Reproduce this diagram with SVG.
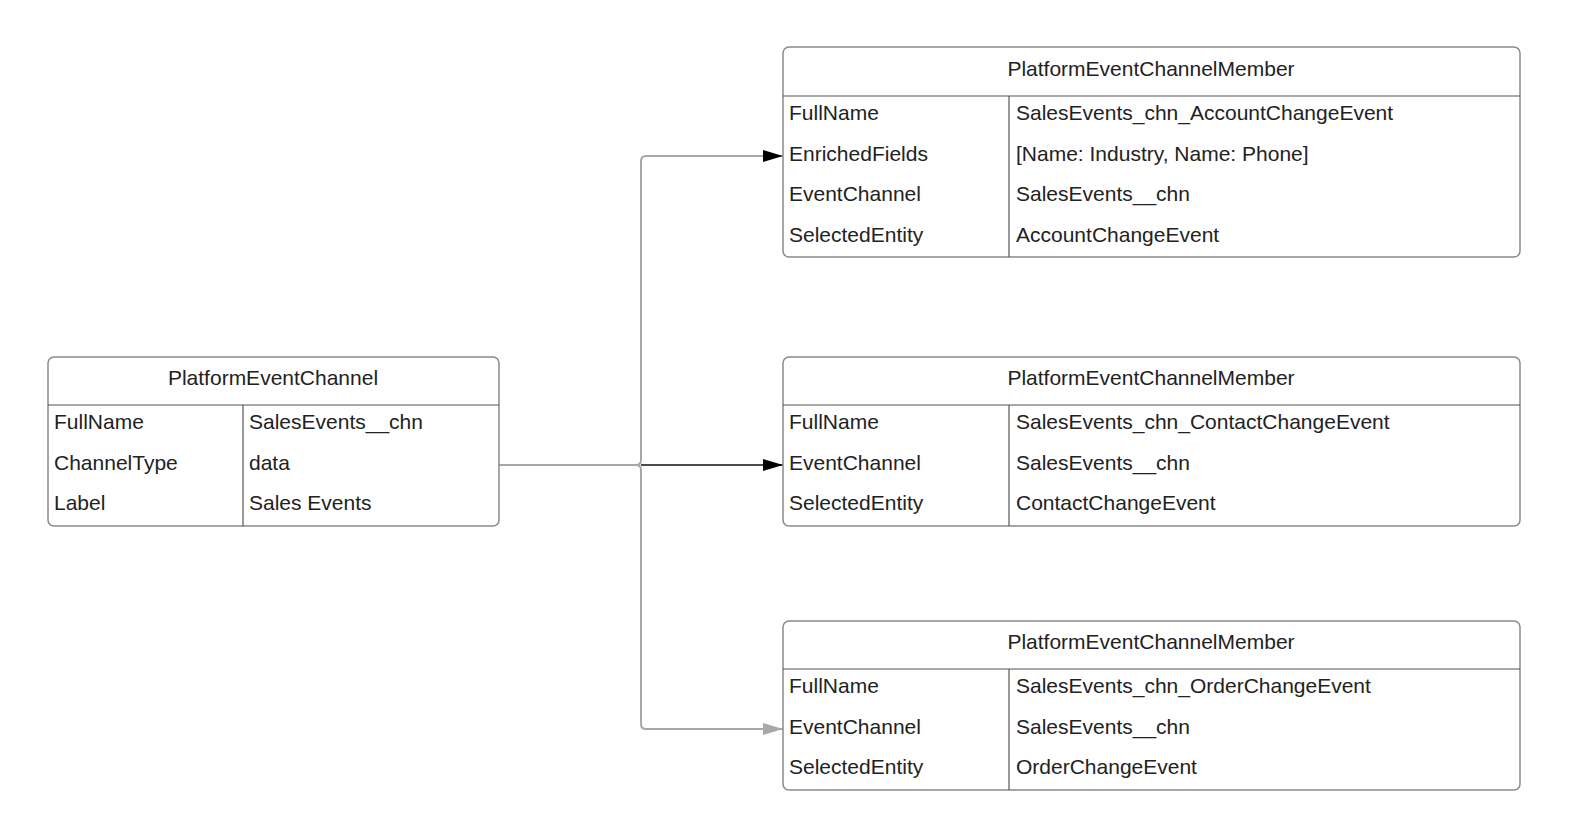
<svg xmlns="http://www.w3.org/2000/svg" width="1572" height="840" viewBox="0 0 1572 840">
<style>
text{font-family:"Liberation Sans",Arial,sans-serif;font-size:21px;fill:#222}
.h{text-anchor:middle}
.box{fill:#fff;stroke:#8a8a8a;stroke-width:1.5}
.ln{stroke:#555;stroke-width:1.2}
</style>
<defs>
<marker id="ab" markerWidth="20" markerHeight="12" refX="20" refY="6" orient="auto" markerUnits="userSpaceOnUse"><path d="M0,0L20,6L0,12z" fill="#000"/></marker>
<marker id="ag" markerWidth="20" markerHeight="12" refX="20" refY="6" orient="auto" markerUnits="userSpaceOnUse"><path d="M0,0L20,6L0,12z" fill="#a8a8a8"/></marker>
</defs>
<rect width="1572" height="840" fill="#fff"/>
<g id="connectors" fill="none" stroke-width="2">
<path d="M499,465H636Q641,465 641,460V161Q641,156 646,156H783" stroke="#a8a8a8" marker-end="url(#ab)"/>
<path d="M641,465H783" stroke="#111" stroke-width="1.5" marker-end="url(#ab)"/>
<path d="M499,465H636Q641,465 641,470V724Q641,729 646,729H783" stroke="#a8a8a8" marker-end="url(#ag)"/>
</g>
<g id="channel">
<rect class="box" x="48" y="357" width="451" height="169" rx="6"/>
<line class="ln" x1="48" y1="405" x2="499" y2="405"/><line class="ln" x1="243" y1="405" x2="243" y2="526"/>
<text class="h" x="273" y="385">PlatformEventChannel</text>
<text x="54" y="429">FullName</text><text x="249" y="429">SalesEvents__chn</text>
<text x="54" y="470">ChannelType</text><text x="249" y="470">data</text>
<text x="54" y="510">Label</text><text x="249" y="510">Sales Events</text>
</g>
<g id="member1">
<rect class="box" x="783" y="47" width="737" height="210" rx="6"/>
<line class="ln" x1="783" y1="96" x2="1520" y2="96"/><line class="ln" x1="1009" y1="96" x2="1009" y2="257"/>
<text class="h" x="1151" y="76">PlatformEventChannelMember</text>
<text x="789" y="120">FullName</text><text x="1016" y="120">SalesEvents_chn_AccountChangeEvent</text>
<text x="789" y="161">EnrichedFields</text><text x="1016" y="161">[Name: Industry, Name: Phone]</text>
<text x="789" y="201">EventChannel</text><text x="1016" y="201">SalesEvents__chn</text>
<text x="789" y="242">SelectedEntity</text><text x="1016" y="242">AccountChangeEvent</text>
</g>
<g id="member2">
<rect class="box" x="783" y="357" width="737" height="169" rx="6"/>
<line class="ln" x1="783" y1="405" x2="1520" y2="405"/><line class="ln" x1="1009" y1="405" x2="1009" y2="526"/>
<text class="h" x="1151" y="385">PlatformEventChannelMember</text>
<text x="789" y="429">FullName</text><text x="1016" y="429">SalesEvents_chn_ContactChangeEvent</text>
<text x="789" y="470">EventChannel</text><text x="1016" y="470">SalesEvents__chn</text>
<text x="789" y="510">SelectedEntity</text><text x="1016" y="510">ContactChangeEvent</text>
</g>
<g id="member3">
<rect class="box" x="783" y="621" width="737" height="169" rx="6"/>
<line class="ln" x1="783" y1="669" x2="1520" y2="669"/><line class="ln" x1="1009" y1="669" x2="1009" y2="790"/>
<text class="h" x="1151" y="649">PlatformEventChannelMember</text>
<text x="789" y="693">FullName</text><text x="1016" y="693">SalesEvents_chn_OrderChangeEvent</text>
<text x="789" y="734">EventChannel</text><text x="1016" y="734">SalesEvents__chn</text>
<text x="789" y="774">SelectedEntity</text><text x="1016" y="774">OrderChangeEvent</text>
</g>
</svg>
